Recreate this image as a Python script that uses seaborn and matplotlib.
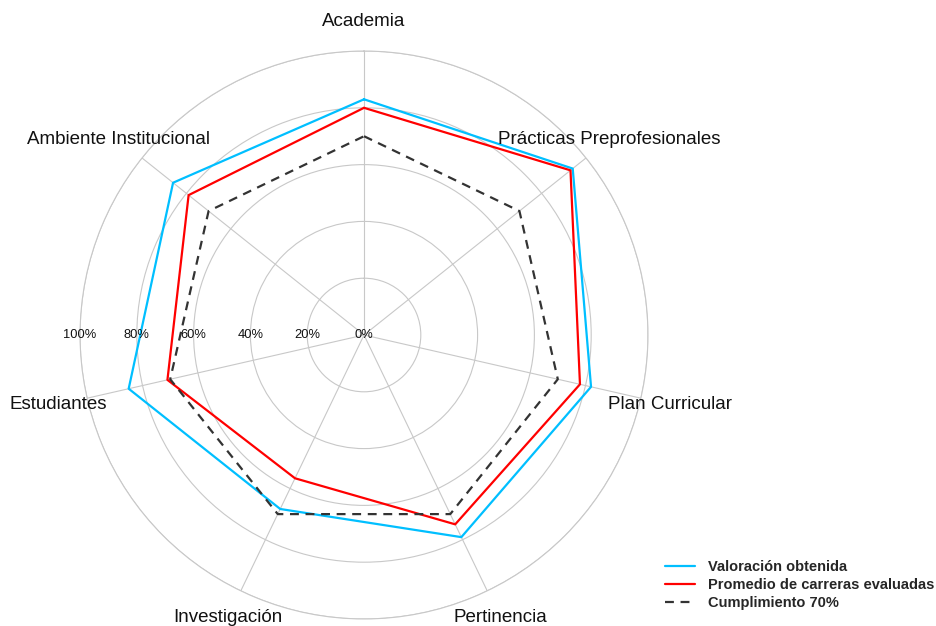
import numpy as np
import pandas as pd
import matplotlib
matplotlib.use("Agg")
import matplotlib.pyplot as plt
import seaborn as sns

# Dimensiones evaluadas (sentido horario desde arriba)
categorias = ["Academia", "Prácticas Preprofesionales", "Plan Curricular",
              "Pertinencia", "Investigación", "Estudiantes", "Ambiente Institucional"]
valoracion = [83, 94, 82, 79, 68, 85, 86]
promedio = [80, 93, 78, 74, 56, 71, 79]
cumplimiento = [70, 70, 70, 70, 70, 70, 70]
r_ticks = [0, 20, 40, 60, 80, 100]
r_labels = ["0%", "20%", "40%", "60%", "80%", "100%"]

series = [
    ("Valoración obtenida", valoracion, "#00BFFF", "-"),
    ("Promedio de carreras evaluadas", promedio, "#FF0000", "-"),
    ("Cumplimiento 70%", cumplimiento, "#333333", (0, (4, 3))),
]

sns.set_theme(style="white")
plt.rcParams["font.family"] = ["Liberation Sans", "DejaVu Sans"]

n = len(categorias)
theta = np.linspace(0, 2 * np.pi, n, endpoint=False)
theta_closed = np.append(theta, 2 * np.pi)

fig = plt.figure(figsize=(9.36, 6.26), dpi=100)
ax = fig.add_axes([0.0855, 0.0112, 0.6068, 0.9073], projection="polar")
ax.set_theta_offset(np.pi / 2)
ax.set_theta_direction(-1)

for nombre, vals, color, ls in series:
    df = pd.DataFrame({"theta": theta_closed, "valor": list(vals) + [vals[0]]})
    sns.lineplot(data=df, x="theta", y="valor", ax=ax, sort=False,
                 color=color, linewidth=1.6, linestyle=ls, label=nombre,
                 legend=False)

ax.set_ylim(0, 100)
ax.set_yticks(r_ticks)
ax.set_yticklabels([])
ax.set_xticks(theta)
ax.set_xticklabels([])
ax.set_xlabel("")
ax.set_ylabel("")
ax.grid(True, color="#c8c8c8", linewidth=0.8)
ax.spines["polar"].set_color("#c8c8c8")
ax.spines["polar"].set_linewidth(0.8)

# etiquetas radiales sobre el eje horizontal izquierdo
for r, lab in zip(r_ticks, r_labels):
    ax.text(-np.pi / 2, r, lab, ha="center", va="center", fontsize=9.3, color="#111111")

# nombres de las dimensiones
for ang, cat in zip(theta, categorias):
    ax.text(ang, 110.5, cat, ha="center", va="center", fontsize=13.5, color="#111111")

handles, labels = ax.get_legend_handles_labels()
fig.legend(handles, labels, loc="lower right", bbox_to_anchor=(1.012, 0.004),
           frameon=False, prop={"weight": "bold", "size": 10.5},
           handlelength=2.0, handletextpad=0.9, labelspacing=0.3)

fig.savefig("out.png", dpi=100)
